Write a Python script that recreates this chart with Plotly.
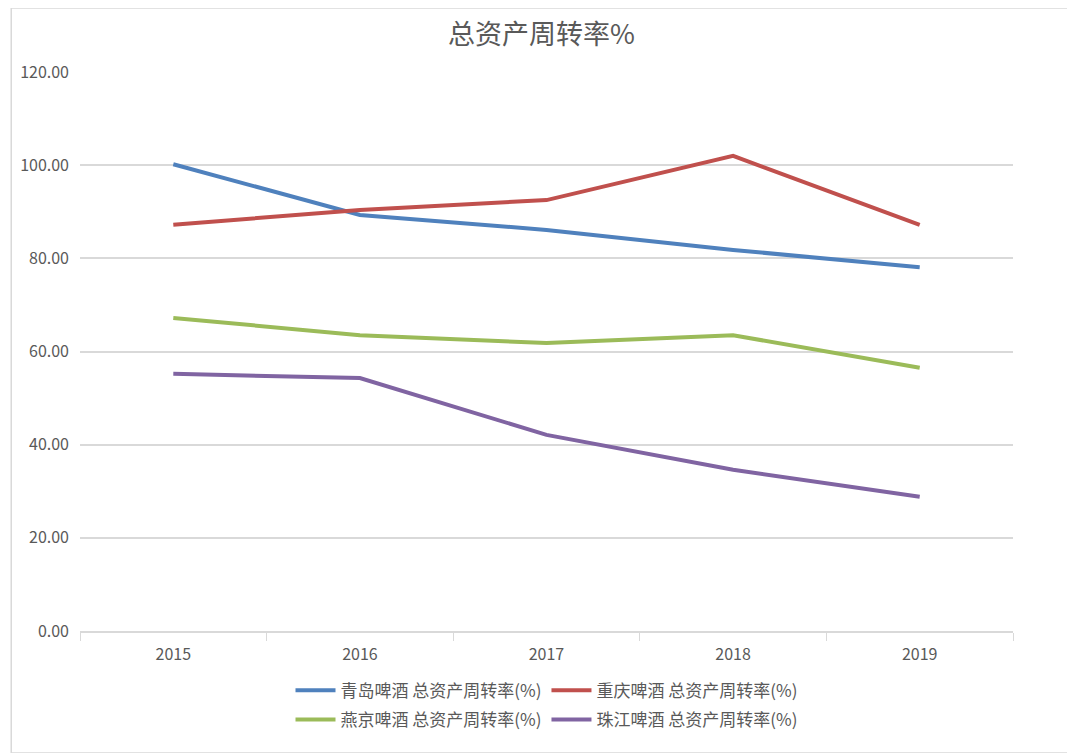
import plotly.graph_objects as go

years = ['2015', '2016', '2017', '2018', '2019']
names = ['青岛啤酒 总资产周转率(%)', '重庆啤酒 总资产周转率(%)',
         '燕京啤酒 总资产周转率(%)', '珠江啤酒 总资产周转率(%)']
qingdao = [100.2, 89.3, 86.1, 81.8, 78.1]
chongqing = [87.2, 90.4, 92.5, 102.0, 87.2]
yanjing = [67.2, 63.5, 61.8, 63.5, 56.5]
zhujiang = [55.2, 54.3, 42.1, 34.6, 28.8]

series = [qingdao, chongqing, yanjing, zhujiang]
colors = ['#4f81bd', '#c0504d', '#9bbb59', '#8064a2']
legends = ['legend', 'legend', 'legend2', 'legend2']

font_family = 'Noto Sans CJK SC'

fig = go.Figure()
for nm, vals, col, lg in zip(names, series, colors, legends):
    fig.add_trace(go.Scatter(x=years, y=vals, mode='lines', name=nm,
                             line=dict(color=col, width=4), legend=lg))

# page has an 8px body margin, so the figure is sized/offset to land where the reference is
fig.update_layout(
    width=1067, height=745,
    paper_bgcolor='white', plot_bgcolor='white',
    margin=dict(l=69, r=62, t=64, b=122),
    font=dict(family=font_family, color='#595959', size=15),
    title=dict(text='总资产周转率%', x=0.5, xanchor='center', y=0.964, yanchor='middle',
               font=dict(size=27, color='#595959', family=font_family)),
    legend=dict(orientation='h', x=0.5, xanchor='center', y=-0.107, yanchor='middle',
                font=dict(size=17, color='#595959'), itemwidth=40, tracegroupgap=0),
    legend2=dict(orientation='h', x=0.5, xanchor='center', y=-0.159, yanchor='middle',
                 font=dict(size=17, color='#595959'), itemwidth=40, tracegroupgap=0),
    shapes=[dict(type='rect', xref='paper', yref='paper', x0=-0.0737, x1=1.0662,
                 y0=-0.2182, y1=1.1145, line=dict(color='#d9d9d9', width=1.5))],
)

fig.update_xaxes(
    type='category', range=[-0.5, 4.5],
    showline=True, linecolor='#d9d9d9', linewidth=1.5,
    ticks='outside', tickson='boundaries', ticklen=8, tickcolor='#d9d9d9',
    ticklabelstandoff=8,
    showgrid=False, tickfont=dict(size=16, color='#595959'),
)
fig.update_yaxes(
    range=[0, 120], dtick=20, tickformat='.2f',
    showgrid=True, gridcolor='#d9d9d9', gridwidth=1.5,
    zeroline=False, showline=False, ticks='', ticklabelstandoff=10,
    tickfont=dict(size=16, color='#595959'),
)

fig.write_html('out.html')
